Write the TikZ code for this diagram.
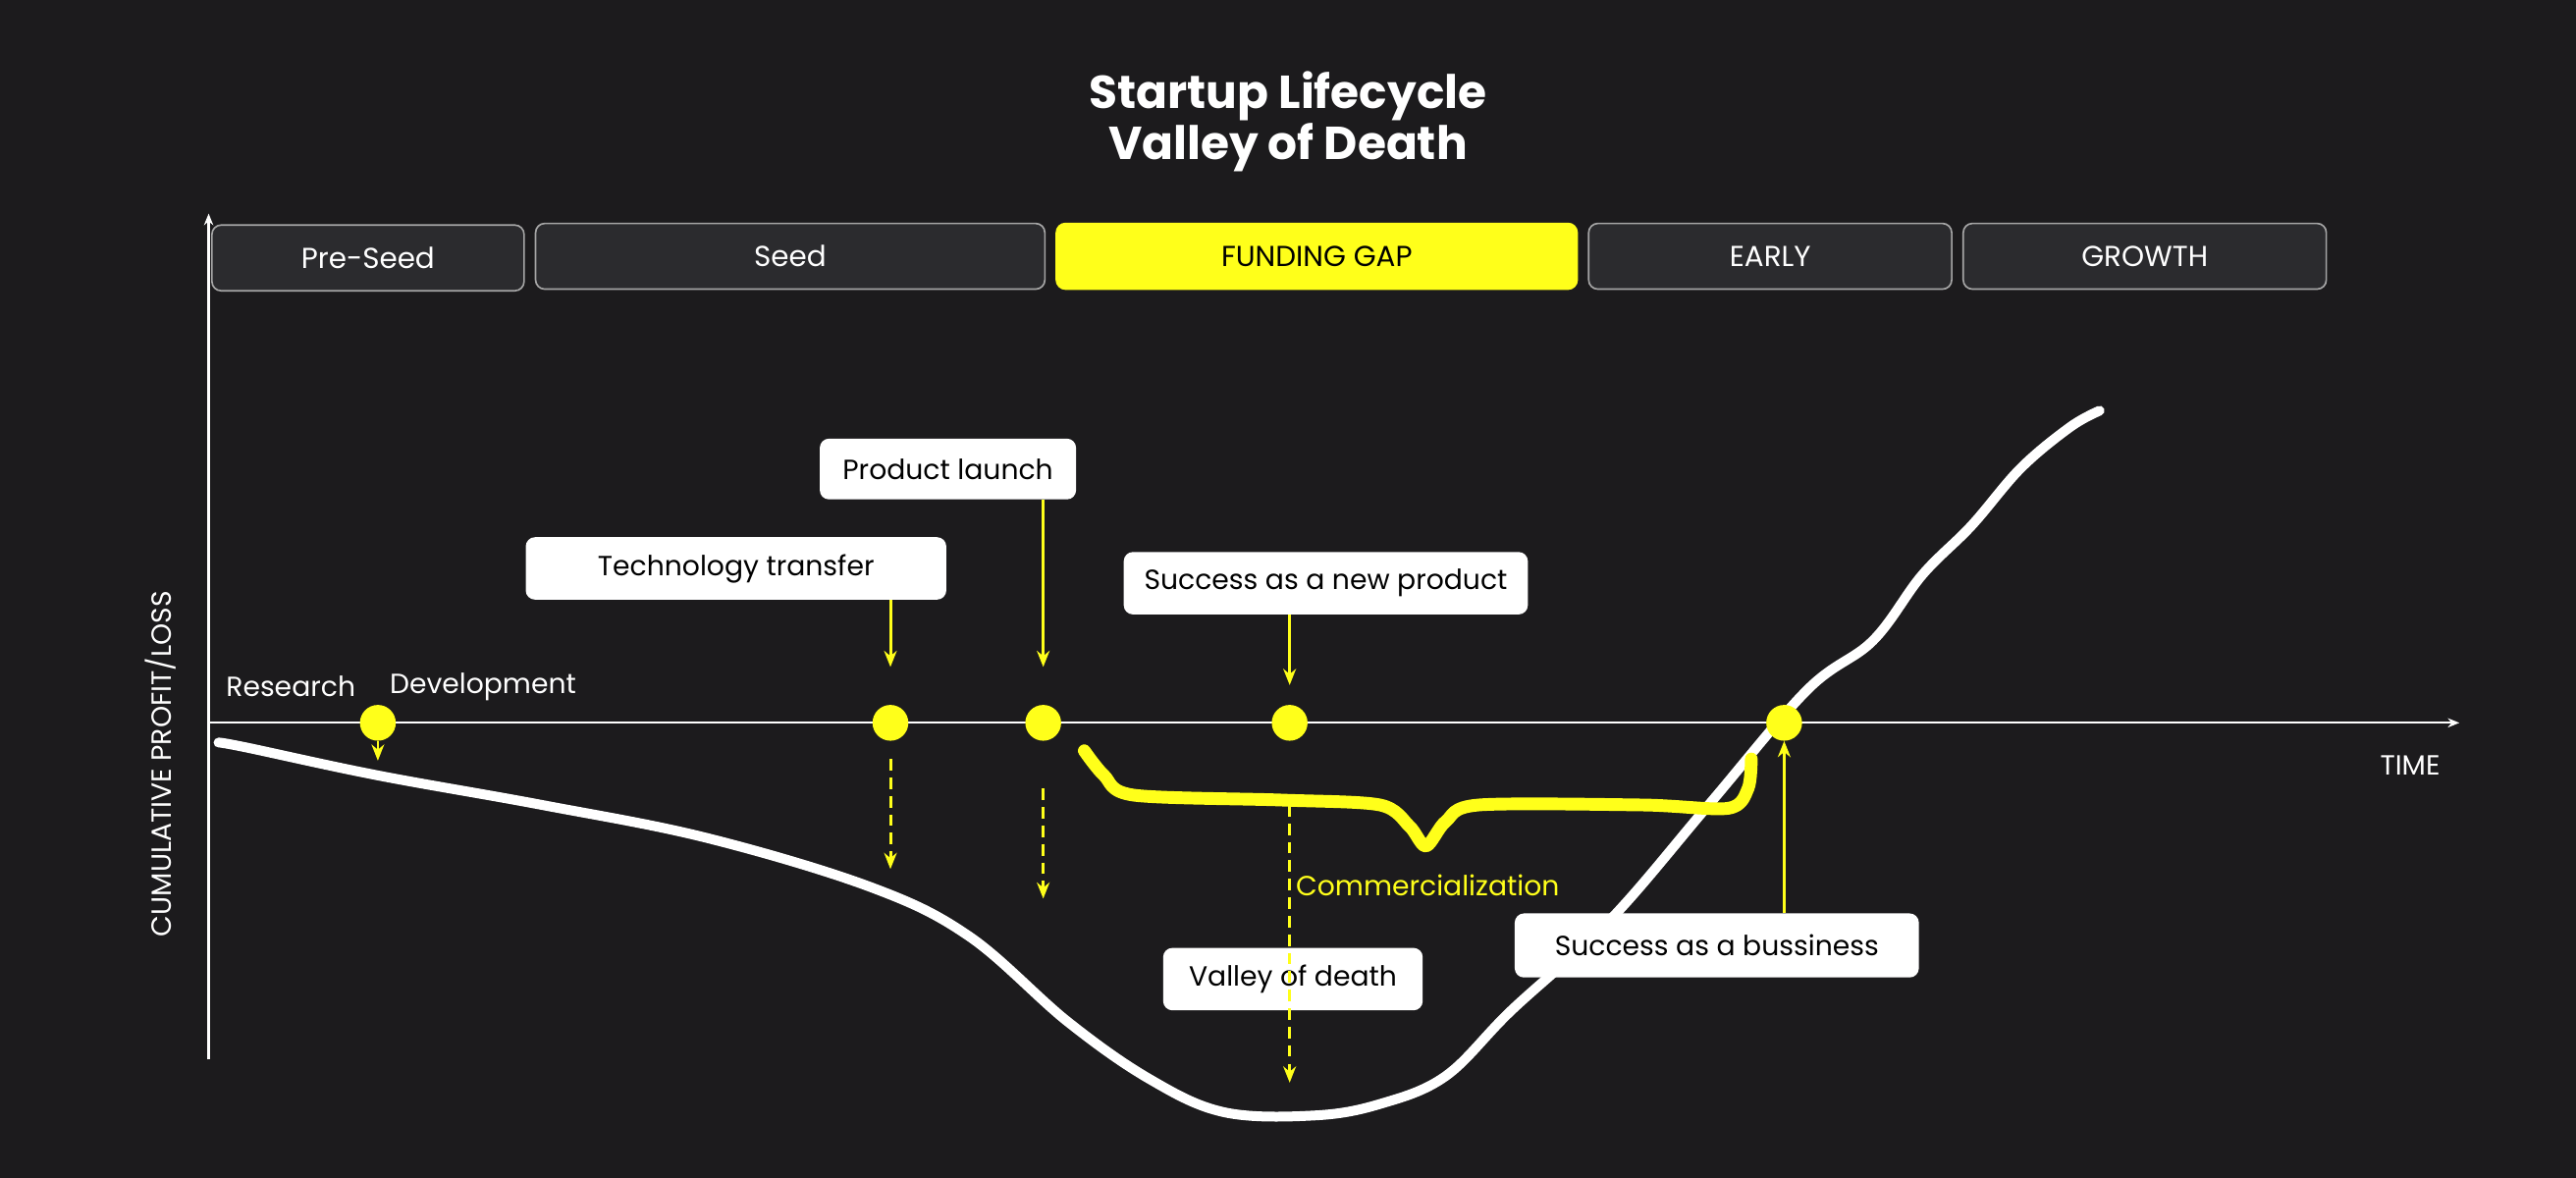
\documentclass[tikz,border=0pt]{standalone}
\usepackage{fontspec}
\setmainfont{Poppins}
\usetikzlibrary{arrows.meta}
\definecolor{bg}{HTML}{1C1B1D}
\definecolor{stagefill}{HTML}{2B2B2E}
\definecolor{ylw}{HTML}{FFFF1A}
\tikzset{
  stage/.style={draw=gray!70, line width=1.4pt, fill=stagefill, rounded corners=8pt, text=white, font=\fontsize{25}{28}\selectfont, inner sep=0pt},
  gap/.style={stage, fill=ylw, draw=ylw, text=black},
  lbl/.style={fill=white, rounded corners=8pt, text=black, font=\fontsize{24}{27}\selectfont, inner sep=0pt},
  dot/.style={circle, fill=ylw, minimum size=31pt, inner sep=0pt},
  yarr/.style={ylw, line width=2.6pt, -{Stealth[length=14pt,width=11pt]}},
  ydash/.style={yarr, dashed, dash pattern=on 10pt off 6pt},
  axis/.style={white, line width=1.8pt, -{Stealth[length=10pt,width=8pt]}},
  txt/.style={text=white, font=\fontsize{24}{27}\selectfont},
}
\begin{document}
\begin{tikzpicture}[x=0.05cm,y=-0.05cm]
\fill[bg] (0,0) rectangle (1568,717);
\useasboundingbox (0,0) rectangle (1568,717);
\node[text=white, font=\bfseries\fontsize{40}{44}\selectfont, align=center] (title) at (784,74) {Startup Lifecycle\\Valley of Death};
% stages
\node[stage, minimum width=190*0.05cm, minimum height=40*0.05cm] (pre) at (224,157) {Pre-Seed};
\node[stage, minimum width=310*0.05cm, minimum height=40*0.05cm] (seed) at (481,156) {Seed};
\node[gap, minimum width=317*0.05cm, minimum height=40*0.05cm] (gapn) at (801.5,156) {FUNDING GAP};
\node[stage, minimum width=221*0.05cm, minimum height=40*0.05cm] (early) at (1077.5,156) {EARLY};
\node[stage, minimum width=221*0.05cm, minimum height=40*0.05cm] (growth) at (1305.5,156) {GROWTH};
% axes
\coordinate (o) at (127,440);
\coordinate (ytop) at (127,130);
\coordinate (ybot) at (127,645);
\coordinate (xend) at (1497,440);
\draw[axis] (ybot) -- (ytop);
\draw[axis] (o) -- (xend);
\node[txt, rotate=90] (ylab) at (98,465) {CUMULATIVE PROFIT/LOSS};
\node[txt] (time) at (1467,466) {TIME};
\node[txt] (res) at (177,418) {Research};
\node[txt] (dev) at (294,418) {Development};
% white curve
\draw[white, line width=8.5pt, line cap=round, line join=round] plot[smooth, tension=0.6] coordinates {(133,452) (150,455) (230,472) (330,490) (430,510) (530,540) (590,570) (650,622) (700,657) (745,677) (800,679) (840,672) (880,655) (920,615) (980,560) (1040,490) (1100,420) (1140,390) (1170,350) (1200,320) (1230,285) (1260,260) (1278,250)};
% yellow brush
\draw[ylw, line width=11pt, line cap=round, line join=round] plot[smooth, tension=0.5] coordinates {(660,457) (672,472) (690,484) (780,487) (840,490) (858,503) (868,515) (880,500) (900,490) (1000,490) (1052,492) (1064,480) (1066,462)};
% dots
\node[dot] (d1) at (230,440) {};
\node[dot] (d2) at (542,440) {};
\node[dot] (d3) at (635,440) {};
\node[dot] (d4) at (785,440) {};
\node[dot] (d5) at (1086,440) {};
% labels
\node[lbl, minimum width=256*0.05cm, minimum height=38*0.05cm] (tt) at (448,346) {Technology transfer};
\node[lbl, minimum width=156*0.05cm, minimum height=37*0.05cm] (pl) at (577,285.5) {Product launch};
\node[lbl, minimum width=246*0.05cm, minimum height=38*0.05cm] (sn) at (807,355) {Success as a new product};
\node[lbl, minimum width=158*0.05cm, minimum height=38*0.05cm] (vd) at (787,596) {Valley of death};
\node[lbl, minimum width=246*0.05cm, minimum height=39*0.05cm] (sb) at (1045,575.5) {Success as a bussiness};
\node[text=ylw, font=\fontsize{24}{27}\selectfont] (com) at (869,539) {Commercialization};
% arrows
\draw[yarr] (tt.south -| d2) -- (d2 |- 0,406);
\draw[yarr] (pl.south -| d3) -- (d3 |- 0,406);
\draw[yarr] (sn.south -| d4) -- (d4 |- 0,417);
\draw[yarr] (sb.north -| d5) -- (d5.south);
\coordinate (a1) at (230,463);
\draw[yarr, line width=2pt] (d1.south) -- (a1);
\coordinate (e2) at (542,529);
\coordinate (e3) at (635,547);
\coordinate (e4) at (785,659);
\coordinate (s2) at (542,462);
\coordinate (s3) at (635,480);
\coordinate (s4) at (785,490);
\draw[ydash] (s2) -- (e2);
\draw[ydash] (s3) -- (e3);
\draw[ydash] (s4) -- (e4);
\end{tikzpicture}
\end{document}
